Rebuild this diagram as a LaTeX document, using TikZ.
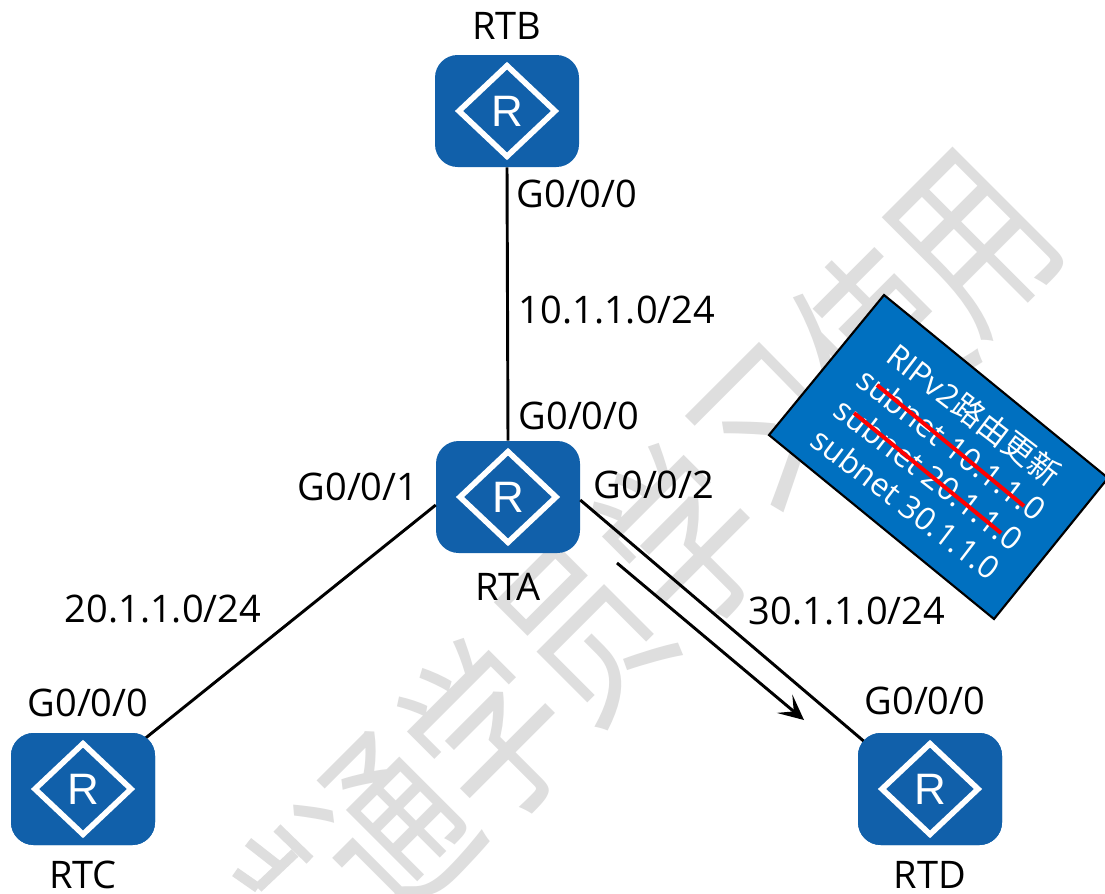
\documentclass[tikz,border=0pt]{standalone}
\usepackage{graphicx}
\usepackage{fontspec}
\setmainfont{Open Sans}
\newfontfamily\cjk{Noto Sans CJK SC}
\newfontfamily\rfont{Liberation Sans}
\usetikzlibrary{calc,arrows.meta}
\definecolor{rblue}{RGB}{17,96,170}
\definecolor{pblue}{RGB}{0,112,192}
\definecolor{wm}{RGB}{222,222,222}
\tikzset{
 x=0.75pt,y=-0.75pt,
 lbl/.style={font=\fontsize{28.5}{32}\selectfont,inner sep=0pt,text=black},
 rbody/.style={fill=rblue,rounded corners=17pt,minimum width=108pt,minimum height=84pt,inner sep=0pt,draw=none},
 wire/.style={line width=2.2pt,black},
 wmark/.style={font=\cjk\fontsize{146}{146}\selectfont,text=wm,rotate=45,inner sep=0pt},
 wstroke/.style={wm,line width=7.5pt},
}
\newcommand{\rsym}[2]{%
 \draw[white,line width=4.2pt,line join=miter] ($(#1)+(-36pt,0)$) -- ($(#1)+(0,-34pt)$) -- ($(#1)+(36pt,0)$) -- ($(#1)+(0,34pt)$) -- cycle;
 \node[text=white,inner sep=0pt,font=\rfont\fontsize{33}{36}\selectfont] (#2) at (#1) {R};
}
\begin{document}
\begin{tikzpicture}
\useasboundingbox (0,0) rectangle (1105,893);
\fill[white] (0,0) rectangle (1105,893);
\clip (0,0) rectangle (1105,893);
\foreach \c/\p/\q in {通/390/828,学/488/731,员/585/633,学/683/536,习/780/438,使/878/340,用/975/243}
 \node[wmark] at (\p,\q) {\scalebox{0.7}[1]{\c}};
\draw[wstroke] (277,828) -- (310,860);
\draw[wstroke] (248,842) -- (280,867);
\draw[wstroke] (235,872) -- (258,888);
\draw[wstroke] (295,853) -- (258,888);

\coordinate (cb) at (507,111);
\coordinate (ca) at (508,497);
\coordinate (cc) at (83,789);
\coordinate (cd) at (930,789);
\node[rbody] (rtb) at (cb) {};
\node[rbody] (rta) at (ca) {};
\node[rbody] (rtc) at (cc) {};
\node[rbody] (rtd) at (cd) {};
\draw[wire] (rtb.south) -- (rta.north);
\draw[wire] ($(rta.west)+(0,8)$) -- ($(rtc.north east)+(-18,12)$);
\draw[wire] ($(rta.east)+(0,3)$) -- ($(rtd.north west)+(22,22)$);
\node[rbody] at (cc) {};
\node[rbody] at (cd) {};
\rsym{cb}{rb}\rsym{ca}{ra}\rsym{cc}{rc}\rsym{cd}{rd}
\coordinate (as) at (617,563);
\coordinate (ae) at (804,720);
\draw[line width=2.2pt,-{Stealth[length=19pt,width=18pt,inset=9pt]}] (as) -- (ae);

\node[lbl] (tb) at (507,26) {RTB};
\node[lbl] (ta) at (508,587) {RTA};
\node[lbl] (tc) at (83,875) {RTC};
\node[lbl] (td) at (930,875) {RTD};
\node[lbl] at (577,194) {G0/0/0};
\node[lbl] at (617,310) {10.1.1.0/24};
\node[lbl] at (579,416) {G0/0/0};
\node[lbl] at (358,487) {G0/0/1};
\node[lbl] at (654,485) {G0/0/2};
\node[lbl] at (163,609) {20.1.1.0/24};
\node[lbl] at (847,611) {30.1.1.0/24};
\node[lbl] at (88,703) {G0/0/0};
\node[lbl] at (925,701) {G0/0/0};

\draw[line width=1.6pt,fill=pblue] (884,295) -- (1108,478) -- (994,619) -- (769,435) -- cycle;
\node[text=white,inner sep=0pt,align=center,rotate=-37.4,font=\fontsize{23.8}{28}\selectfont] (ptxt) at (941,458)
 {RIPv2{\cjk 路由更新}\\subnet 10.1.1.0\\subnet 20.1.1.0\\subnet 30.1.1.0};
\coordinate (s1) at (877,385);
\coordinate (e1) at (1024,506);
\coordinate (s2) at (854,413);
\coordinate (e2) at (1001,533);
\draw[red,line width=3pt] (s1) -- (e1);
\draw[red,line width=3pt] (s2) -- (e2);
\end{tikzpicture}
\end{document}
